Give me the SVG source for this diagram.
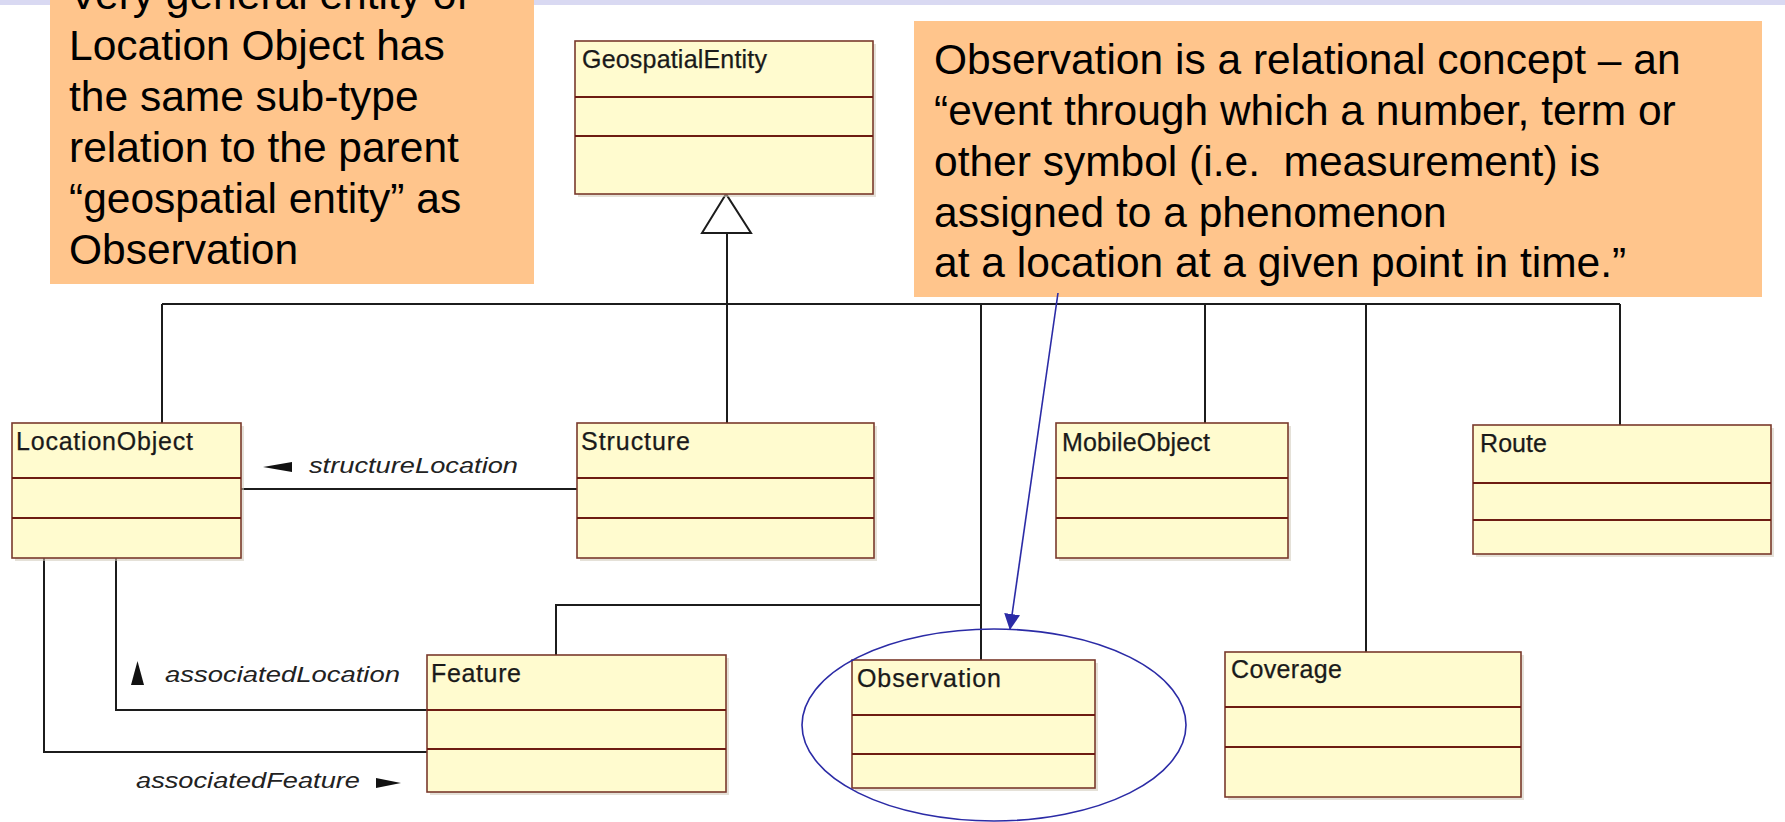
<svg xmlns="http://www.w3.org/2000/svg" width="1785" height="822" viewBox="0 0 1785 822">
  <defs>
    <style>
      .band { fill: #d9d9f2; }
      .note { fill: #ffc58c; }
      .note-text { font-family: "Liberation Sans", Arial, sans-serif; font-size: 42.5px; fill: #000; }
      .cls { fill: #fffbcf; stroke: #7a3a2c; stroke-width: 1.6; }
      .shadow { fill: #cfc9b8; opacity: 0.55; }
      .div { stroke: #6e1c12; stroke-width: 2; }
      .name { font-family: "Liberation Sans", Arial, sans-serif; font-size: 25px; fill: #1a1a1a; stroke: #1a1a1a; stroke-width: 0.25; }
      .role { font-family: "Liberation Sans", Arial, sans-serif; font-size: 22px; font-style: italic; fill: #222; }
      .wire { fill: none; stroke: #1c1c1c; stroke-width: 2; }
      .dir { fill: #111; }
      .hint { stroke: #2b2ba6; stroke-width: 1.6; fill: none; }
    </style>
    <marker id="blueHead" viewBox="0 0 16 16" refX="15" refY="8" markerWidth="16" markerHeight="16" markerUnits="userSpaceOnUse" orient="auto">
      <path d="M0,0 L16,8 L0,16 Z" fill="#2b2ba6"/>
    </marker>
  </defs>

  <rect x="0" y="0" width="1785" height="822" fill="#ffffff"/>
  <rect class="band" x="0" y="0" width="1785" height="5"/>

  <!-- connectors -->
  <g id="connectors">
    <path class="wire" d="M727,233 V423"/>
    <polygon points="726,194 702,233 751,233" fill="#ffffff" stroke="#1c1c1c" stroke-width="2"/>
    <path class="wire" d="M162,304 H1620"/>
    <path class="wire" d="M162,304 V423"/>
    <path class="wire" d="M981,304 V660"/>
    <path class="wire" d="M1205,304 V423"/>
    <path class="wire" d="M1366,304 V652"/>
    <path class="wire" d="M1620,304 V425"/>
    <path class="wire" d="M556,655 V605 H981"/>
    <path class="wire" d="M241,489 H577"/>
    <path class="wire" d="M116,558 V710 H427"/>
    <path class="wire" d="M44,558 V752 H427"/>

    <polygon class="dir" points="263,467 292,462 292,472"/>
    <text class="role" x="309" y="473" textLength="209" lengthAdjust="spacingAndGlyphs">structureLocation</text>
    <polygon class="dir" points="137.5,661 131,685 144,685"/>
    <text class="role" x="165" y="682" textLength="235" lengthAdjust="spacingAndGlyphs">associatedLocation</text>
    <text class="role" x="136" y="788" textLength="224" lengthAdjust="spacingAndGlyphs">associatedFeature</text>
    <polygon class="dir" points="376,778 376,788 401,783"/>
  </g>

  <!-- classes -->
  <g id="GeospatialEntity">
    <rect class="shadow" x="578" y="44" width="298" height="153"/>
    <rect class="cls" x="575" y="41" width="298" height="153"/>
    <line class="div" x1="575" y1="97" x2="873" y2="97"/>
    <line class="div" x1="575" y1="136" x2="873" y2="136"/>
    <text class="name" x="582" y="68" textLength="185">GeospatialEntity</text>
  </g>

  <g id="LocationObject">
    <rect class="shadow" x="15" y="426" width="229" height="135"/>
    <rect class="cls" x="12" y="423" width="229" height="135"/>
    <line class="div" x1="12" y1="478" x2="241" y2="478"/>
    <line class="div" x1="12" y1="518" x2="241" y2="518"/>
    <text class="name" x="16" y="450" textLength="177">LocationObject</text>
  </g>

  <g id="Structure">
    <rect class="shadow" x="580" y="426" width="297" height="135"/>
    <rect class="cls" x="577" y="423" width="297" height="135"/>
    <line class="div" x1="577" y1="478" x2="874" y2="478"/>
    <line class="div" x1="577" y1="518" x2="874" y2="518"/>
    <text class="name" x="581" y="450" textLength="109">Structure</text>
  </g>

  <g id="MobileObject">
    <rect class="shadow" x="1059" y="426" width="232" height="135"/>
    <rect class="cls" x="1056" y="423" width="232" height="135"/>
    <line class="div" x1="1056" y1="478" x2="1288" y2="478"/>
    <line class="div" x1="1056" y1="518" x2="1288" y2="518"/>
    <text class="name" x="1062" y="451" textLength="148">MobileObject</text>
  </g>

  <g id="Route">
    <rect class="shadow" x="1476" y="428" width="298" height="129"/>
    <rect class="cls" x="1473" y="425" width="298" height="129"/>
    <line class="div" x1="1473" y1="483" x2="1771" y2="483"/>
    <line class="div" x1="1473" y1="520" x2="1771" y2="520"/>
    <text class="name" x="1480" y="452" textLength="67">Route</text>
  </g>

  <g id="Feature">
    <rect class="shadow" x="430" y="658" width="299" height="137"/>
    <rect class="cls" x="427" y="655" width="299" height="137"/>
    <line class="div" x1="427" y1="710" x2="726" y2="710"/>
    <line class="div" x1="427" y1="749" x2="726" y2="749"/>
    <text class="name" x="431" y="682" textLength="90">Feature</text>
  </g>

  <g id="Observation">
    <rect class="shadow" x="855" y="663" width="243" height="128"/>
    <rect class="cls" x="852" y="660" width="243" height="128"/>
    <line class="div" x1="852" y1="715" x2="1095" y2="715"/>
    <line class="div" x1="852" y1="754" x2="1095" y2="754"/>
    <text class="name" x="857" y="687" textLength="144">Observation</text>
  </g>

  <g id="Coverage">
    <rect class="shadow" x="1228" y="655" width="296" height="145"/>
    <rect class="cls" x="1225" y="652" width="296" height="145"/>
    <line class="div" x1="1225" y1="707" x2="1521" y2="707"/>
    <line class="div" x1="1225" y1="747" x2="1521" y2="747"/>
    <text class="name" x="1231" y="678" textLength="111">Coverage</text>
  </g>

  <!-- annotation notes -->
  <g id="note-location">
    <rect class="note" x="50" y="0" width="484" height="284"/>
    <text class="note-text" x="69" y="9">Very general entity of</text>
    <text class="note-text" x="69" y="60">Location Object has</text>
    <text class="note-text" x="69" y="111">the same sub-type</text>
    <text class="note-text" x="69" y="162">relation to the parent</text>
    <text class="note-text" x="69" y="213">“geospatial entity” as</text>
    <text class="note-text" x="69" y="264">Observation</text>
  </g>

  <g id="note-observation">
    <rect class="note" x="914" y="21" width="848" height="276"/>
    <text class="note-text" x="934" y="74">Observation is a relational concept – an</text>
    <text class="note-text" x="934" y="125">“event through which a number, term or</text>
    <text class="note-text" x="934" y="176" xml:space="preserve">other symbol (i.e.  measurement) is</text>
    <text class="note-text" x="934" y="227">assigned to a phenomenon</text>
    <text class="note-text" x="934" y="277">at a location at a given point in time.”</text>
  </g>

  <!-- highlight of Observation -->
  <g id="highlight">
    <ellipse class="hint" cx="994" cy="725" rx="192" ry="96"/>
    <line class="hint" x1="1058" y1="293" x2="1010" y2="629" marker-end="url(#blueHead)"/>
  </g>
</svg>
